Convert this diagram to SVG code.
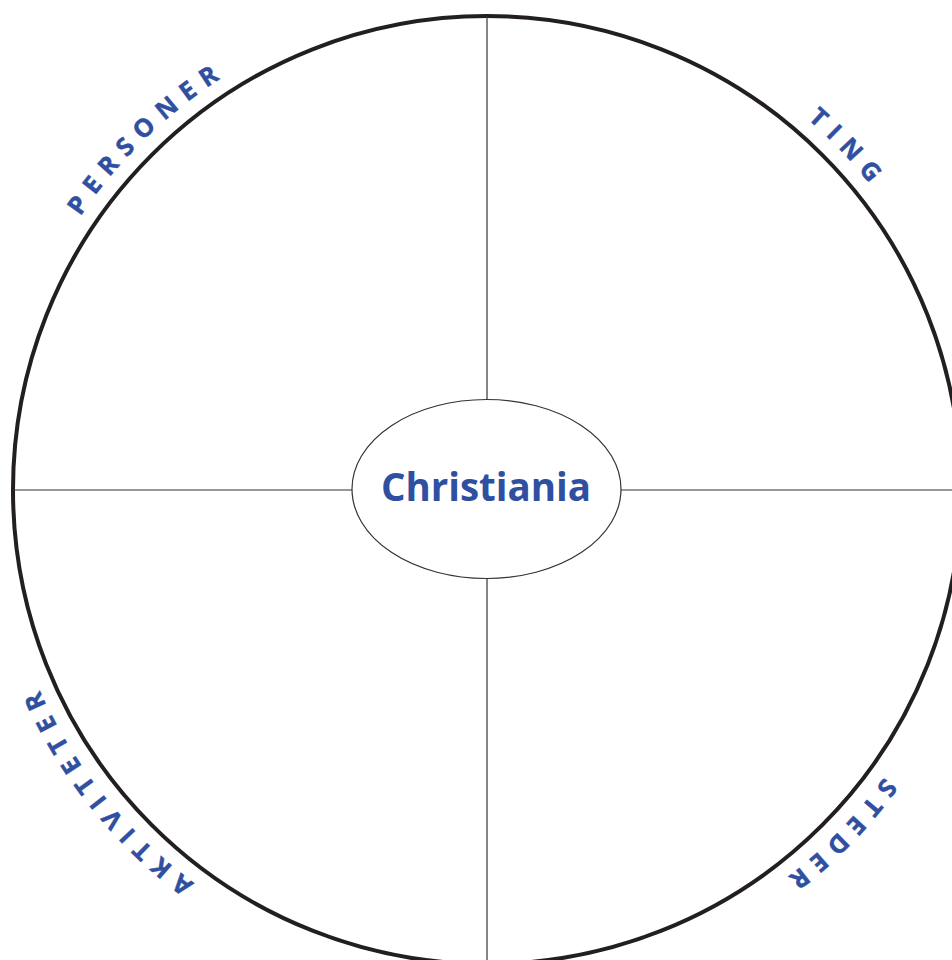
<svg xmlns="http://www.w3.org/2000/svg" xmlns:xlink="http://www.w3.org/1999/xlink" width="952" height="960" viewBox="0 0 952 960">
<style>
.lbl{font-family:"Open Sans","Noto Sans","Liberation Sans",sans-serif;font-weight:bold;fill:#2f4fa0}
.arc{font-size:25px;letter-spacing:9.5px;stroke:#2f4fa0;stroke-width:0.5}
.ln{stroke:#333;stroke-width:1.2;fill:none}
</style>
<defs>
<path id="ring" d="M977,490 A490,490 0 1,1 -3,490 A490,490 0 1,1 977,490"/>
</defs>
<rect width="952" height="960" fill="#fff"/>
<g id="outer-circle">
<circle cx="487" cy="490" r="474" fill="none" stroke="#231f20" stroke-width="4"/>
</g>
<g id="connectors">
<line class="ln" x1="487" y1="16" x2="487" y2="399"/>
<line class="ln" x1="487" y1="579" x2="487" y2="960"/>
<line class="ln" x1="13" y1="490" x2="352" y2="490"/>
<line class="ln" x1="621" y1="490" x2="952" y2="490"/>
</g>
<g id="center">
<ellipse cx="486.5" cy="489" rx="134.5" ry="89.5" fill="#fff" stroke="#333" stroke-width="1.2"/>
<text class="lbl" x="486" y="501" font-size="38.5" text-anchor="middle">Christiania</text>
</g>
<g id="personer">
<text class="lbl arc"><textPath xlink:href="#ring" href="#ring" startOffset="1933" text-anchor="middle">PERSONER</textPath></text>
</g>
<g id="ting">
<text class="lbl arc"><textPath xlink:href="#ring" href="#ring" startOffset="2708" text-anchor="middle">TING</textPath></text>
</g>
<g id="steder">
<text class="lbl arc"><textPath xlink:href="#ring" href="#ring" startOffset="381" text-anchor="middle">STEDER</textPath></text>
</g>
<g id="aktiviteter">
<text class="lbl arc"><textPath xlink:href="#ring" href="#ring" startOffset="1213" text-anchor="middle">AKTIVITETER</textPath></text>
</g>
</svg>
